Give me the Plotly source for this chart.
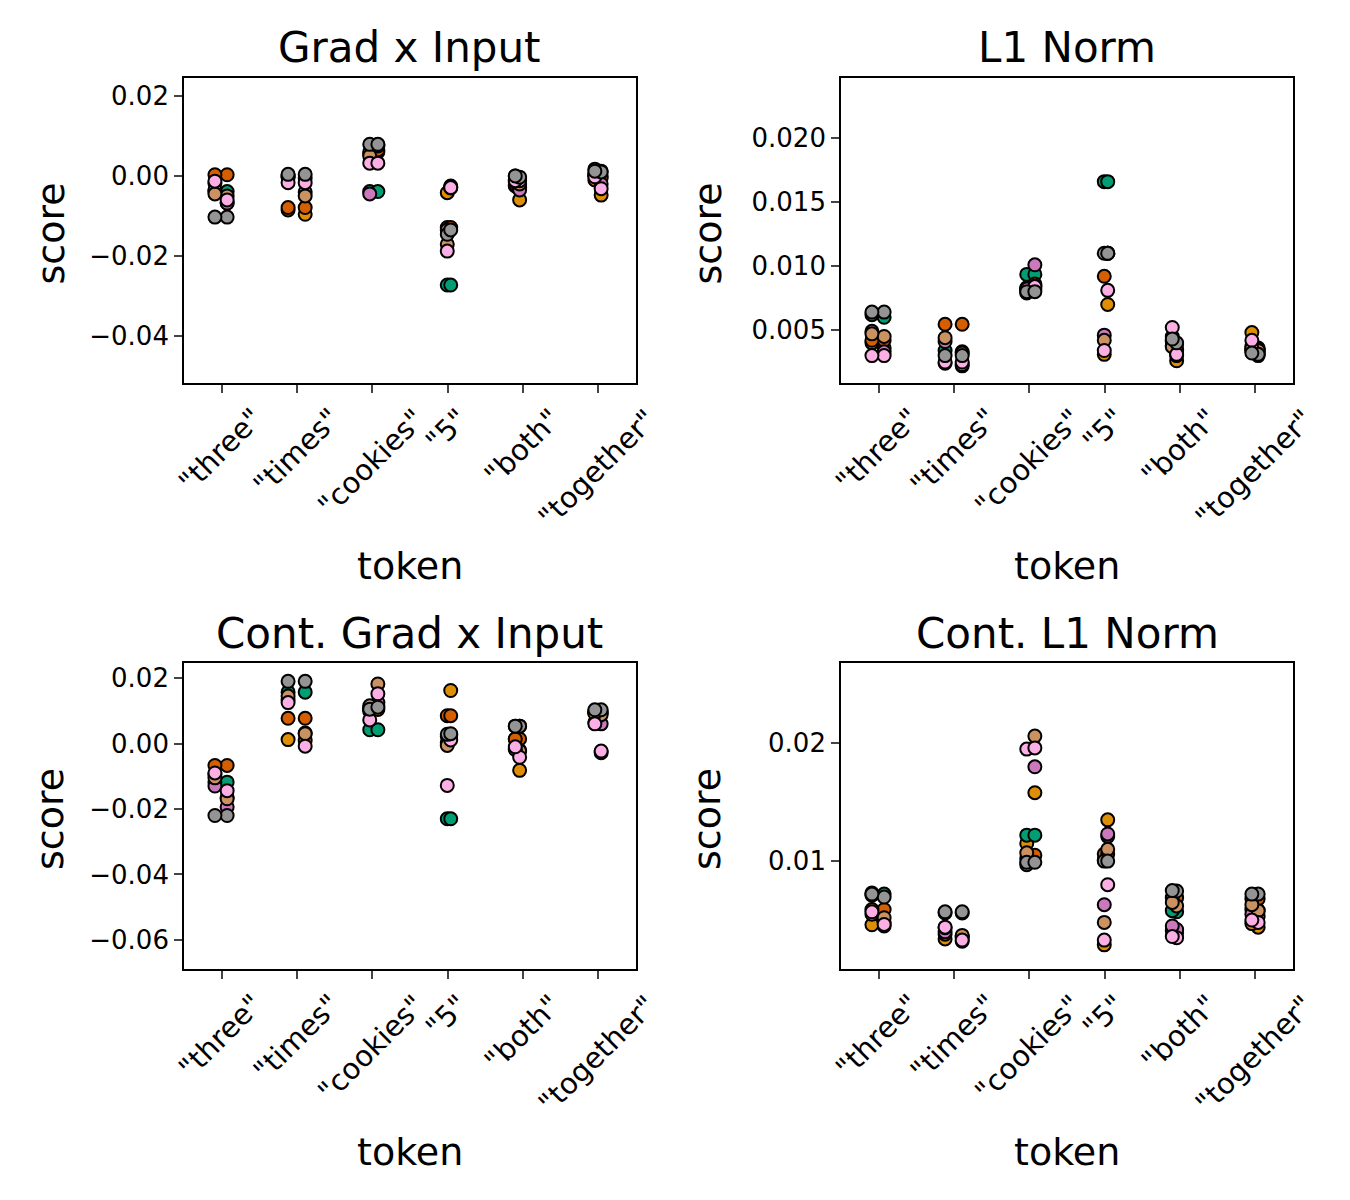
import plotly.graph_objects as go

# Token sull'asse x
tokens = ['"three"', '"times"', '"cookies"', '"5"', '"both"', '"together"']

# Palette (seaborn colorblind, indici 1-7)
hue_colors = ['#de8f05', '#029e73', '#d55e00', '#cc78bc', '#ca9161', '#fbafe4', '#949494']

# Valori: una riga per colore, una coppia per token
grad_x_input = [
    [(-0.0018, -0.0067), (-0.0096, -0.0085), (0.0060, 0.0055), (-0.0042, -0.0025), (-0.0060, -0.0025), (-0.0048, -0.0010)],
    [(-0.0039, -0.0039), (0.0002, -0.0005), (-0.0039, -0.0039), (-0.0273, -0.0273), (0.0000, -0.0005), (0.0003, 0.0000)],
    [(0.0003, 0.0003), (-0.0079, -0.0079), (0.0065, 0.0060), (-0.0129, -0.0129), (-0.0029, -0.0022), (-0.0005, 0.0005)],
    [(-0.0035, -0.0068), (-0.0040, -0.0002), (-0.0045, 0.0075), (-0.0030, -0.0135), (-0.0035, -0.0015), (-0.0020, 0.0000)],
    [(-0.0045, -0.0050), (-0.0050, -0.0003), (0.0050, 0.0078), (-0.0028, -0.0171), (-0.0020, -0.0010), (0.0017, 0.0012)],
    [(-0.0060, -0.0013), (-0.0017, -0.0017), (0.0032, 0.0032), (-0.0029, -0.0188), (-0.0012, -0.0012), (-0.0002, -0.0032)],
    [(-0.0103, -0.0103), (0.0004, 0.0004), (0.0079, 0.0079), (-0.0146, -0.0135), (0.0000, -0.0003), (0.0010, 0.0012)],
]

l1_norm = [
    [(0.0040, 0.0036), (0.0022, 0.0024), (0.0082, 0.0079), (0.0070, 0.0031), (0.0026, 0.0042), (0.0048, 0.0036)],
    [(0.0062, 0.0060), (0.0034, 0.0033), (0.00935, 0.00935), (0.0166, 0.0166), (0.0035, 0.0038), (0.0034, 0.0033)],
    [(0.0042, 0.0042), (0.00545, 0.00545), (0.0086, 0.0083), (0.0110, 0.0092), (0.0041, 0.0039), (0.0037, 0.0035)],
    [(0.0049, 0.0033), (0.0041, 0.0023), (0.0101, 0.0081), (0.0110, 0.0046), (0.0045, 0.0034), (0.0034, 0.0032)],
    [(0.0047, 0.0045), (0.0044, 0.0032), (0.0084, 0.0082), (0.0110, 0.0042), (0.0030, 0.0037), (0.0036, 0.0034)],
    [(0.0030, 0.0030), (0.0025, 0.0025), (0.0084, 0.0082), (0.0081, 0.0034), (0.0052, 0.0031), (0.0042, 0.0030)],
    [(0.0064, 0.0064), (0.0030, 0.0030), (0.0080, 0.0080), (0.0110, 0.0110), (0.0043, 0.0040), (0.0032, 0.0031)],
]

cont_grad_x_input = [
    [(-0.0095, -0.0164), (0.0009, 0.0012), (0.0104, 0.0098), (0.0162, 0.0002), (-0.0082, 0.0014), (-0.0028, 0.0095)],
    [(-0.0118, -0.0118), (0.0157, 0.0157), (0.0042, 0.0042), (-0.0230, -0.0230), (0.0053, 0.0053), (0.0094, 0.0094)],
    [(-0.0067, -0.0067), (0.0077, 0.0077), (0.0115, 0.0108), (0.0085, 0.0085), (0.0014, 0.0014), (0.0098, 0.0096)],
    [(-0.0194, -0.0130), (0.0032, 0.0135), (0.0104, 0.0125), (0.0025, 0.0022), (-0.0021, -0.0015), (0.0065, 0.0060)],
    [(-0.0169, -0.0105), (0.0030, 0.0145), (0.0182, 0.0115), (-0.0006, 0.0028), (-0.0023, -0.0018), (0.0092, 0.0088)],
    [(-0.0090, -0.0144), (-0.0008, 0.0125), (0.0152, 0.0072), (0.0011, -0.0128), (-0.0042, -0.0010), (0.0060, -0.0023)],
    [(-0.0220, -0.0220), (0.0190, 0.0190), (0.0111, 0.0105), (0.0030, 0.0028), (0.0053, 0.0053), (0.0103, 0.0103)],
]

cont_l1_norm = [
    [(0.0045, 0.0046), (0.0032, 0.0034), (0.0158, 0.0115), (0.0135, 0.0029), (0.0039, 0.0041), (0.0044, 0.0047)],
    [(0.0073, 0.0072), (0.0056, 0.0056), (0.0122, 0.0122), (0.0121, 0.0101), (0.0057, 0.0058), (0.0059, 0.0058)],
    [(0.0059, 0.0059), (0.0036, 0.0038), (0.0105, 0.0102), (0.0106, 0.0106), (0.0069, 0.0069), (0.0068, 0.0068)],
    [(0.0055, 0.0048), (0.0040, 0.0035), (0.0180, 0.0097), (0.0123, 0.0063), (0.0042, 0.0045), (0.0053, 0.0055)],
    [(0.0071, 0.0052), (0.00435, 0.0037), (0.0206, 0.0107), (0.0110, 0.0048), (0.0065, 0.0062), (0.0058, 0.0063)],
    [(0.0057, 0.00463), (0.0044, 0.0033), (0.0196, 0.0195), (0.0080, 0.0033), (0.0035, 0.0036), (0.0048, 0.0050)],
    [(0.00695, 0.0072), (0.0057, 0.0057), (0.0099, 0.0099), (0.0100, 0.0100), (0.00746, 0.0075), (0.0072, 0.0072)],
]

# Tick dell'asse y per ogni pannello
ticks_gi = [-0.04, -0.02, 0.00, 0.02]
ticktext_gi = ['\u22120.04', '\u22120.02', '0.00', '0.02']
ticks_l1 = [0.005, 0.010, 0.015, 0.020]
ticktext_l1 = ['0.005', '0.010', '0.015', '0.020']
ticks_cgi = [-0.06, -0.04, -0.02, 0.00, 0.02]
ticktext_cgi = ['\u22120.06', '\u22120.04', '\u22120.02', '0.00', '0.02']
ticks_cl1 = [0.01, 0.02]
ticktext_cl1 = ['0.01', '0.02']

FONT = 'DejaVu Sans'
W, H = 1350, 1200
# la pagina html ha un piccolo margine: sposto tutto di conseguenza
OFFX, OFFY = 8, 7


def px_x(x):
    return (x - OFFX) / W


def px_y(y):
    return 1 - (y - OFFY) / H


# pannelli: titolo, dati, tick, range y, bordi x (px), bordi y (px dall'alto)
pannelli = [
    ('Grad x Input', grad_x_input, ticks_gi, ticktext_gi, [-0.0518, 0.0245], (184, 636), (77, 382)),
    ('L1 Norm', l1_norm, ticks_l1, ticktext_l1, [0.00086, 0.0247], (841, 1293), (77, 382)),
    ('Cont. Grad x Input', cont_grad_x_input, ticks_cgi, ticktext_cgi, [-0.0689, 0.0246], (184, 636), (662, 968)),
    ('Cont. L1 Norm', cont_l1_norm, ticks_cl1, ticktext_cl1, [0.00085, 0.0268], (841, 1293), (662, 968)),
]

fig = go.Figure()
annotations = []

for k, (titolo, dati, tv, tt, yr, (x0, x1), (y0, y1)) in enumerate(pannelli):
    n = '' if k == 0 else str(k + 1)
    xa, ya = 'x' + n, 'y' + n

    for colore, righe in zip(hue_colors, dati):
        xs, ys = [], []
        for tok, coppia in zip(tokens, righe):
            for v in coppia:
                xs.append(tok)
                ys.append(v)
        fig.add_trace(go.Box(
            x=xs, y=ys,
            xaxis=xa, yaxis=ya,
            boxpoints='all', jitter=1, pointpos=0, width=0.28,
            fillcolor='rgba(0,0,0,0)',
            line=dict(color='rgba(0,0,0,0)', width=0),
            marker=dict(color=colore, size=13, opacity=1, line=dict(color='black', width=2)),
            hoveron='points',
            showlegend=False,
        ))

    fig.update_layout(**{
        'xaxis' + n: dict(
            domain=[px_x(x0), px_x(x1)], anchor=ya, type='category',
            categoryorder='array', categoryarray=tokens,
            range=[-0.5, 5.5], showticklabels=False, ticks='outside', ticklen=8, tickwidth=1.7,
            showline=True, mirror=True, linecolor='black', linewidth=1.7, showgrid=False, zeroline=False,
        ),
        'yaxis' + n: dict(
            domain=[px_y(y1), px_y(y0)], anchor=xa, range=yr, tickvals=tv, ticktext=tt,
            ticks='outside', ticklen=8, tickwidth=1.7,
            tickfont=dict(family=FONT, size=26, color='black'),
            showline=True, mirror=True, linecolor='black', linewidth=1.7, showgrid=False, zeroline=False,
        ),
    })

    # etichette dei token ruotate di 45 gradi
    for tok in tokens:
        annotations.append(dict(
            x=tok, xref=xa, y=px_y(y1 + 16), yref='paper', xshift=-1,
            text=tok, showarrow=False, textangle=-45,
            xanchor='center', yanchor='top',
            font=dict(family=FONT, size=29, color='black'),
        ))
    # titolo del pannello
    annotations.append(dict(
        x=px_x((x0 + x1) / 2), y=px_y(y0 - 30), xref='paper', yref='paper',
        text=titolo, showarrow=False, xanchor='center', yanchor='middle',
        font=dict(family=FONT, size=42, color='black'),
    ))
    # titolo asse x
    annotations.append(dict(
        x=px_x((x0 + x1) / 2), y=px_y(y1 + 183), xref='paper', yref='paper',
        text='token', showarrow=False, xanchor='center', yanchor='middle',
        font=dict(family=FONT, size=38, color='black'),
    ))
    # titolo asse y
    annotations.append(dict(
        x=px_x(x0 - 134), y=px_y((y0 + y1) / 2 + 3), xref='paper', yref='paper',
        text='score', showarrow=False, textangle=-90, xanchor='center', yanchor='middle',
        font=dict(family=FONT, size=38, color='black'),
    ))

fig.update_layout(
    width=W, height=H,
    margin=dict(l=0, r=0, t=0, b=0),
    boxmode='overlay',
    plot_bgcolor='white', paper_bgcolor='white',
    annotations=annotations,
    showlegend=False,
    hovermode='closest',
)

fig.write_html('out.html')
